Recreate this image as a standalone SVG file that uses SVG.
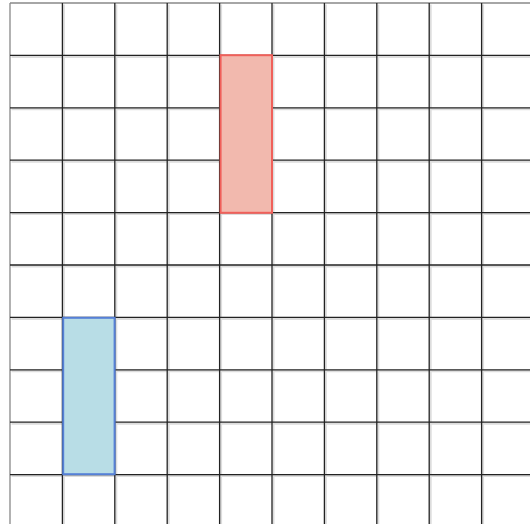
<svg xmlns="http://www.w3.org/2000/svg" width="530" height="524" viewBox="0 0 530 524">
<defs>
<style>
.g line{stroke:#222;stroke-width:1.3}
.sh line{stroke:#ddd;stroke-width:2}
.red{fill:#f2b9ae;stroke:#f0605a;stroke-width:2}
.blue{fill:#b8dde6;stroke:#5580d6;stroke-width:2}
</style>
</defs>
<rect width="530" height="524" fill="#fff"/>
<g id="grid-shadow" class="sh" transform="translate(1.5,1.5)">
<line x1="62.4" y1="3" x2="62.4" y2="524"/><line x1="114.8" y1="3" x2="114.8" y2="524"/><line x1="167.2" y1="3" x2="167.2" y2="524"/><line x1="219.6" y1="3" x2="219.6" y2="524"/><line x1="272" y1="3" x2="272" y2="524"/><line x1="324.4" y1="3" x2="324.4" y2="524"/><line x1="376.8" y1="3" x2="376.8" y2="524"/><line x1="429.2" y1="3" x2="429.2" y2="524"/><line x1="481.6" y1="3" x2="481.6" y2="524"/>
<line x1="10" y1="55.4" x2="530" y2="55.4"/><line x1="10" y1="107.8" x2="530" y2="107.8"/><line x1="10" y1="160.2" x2="530" y2="160.2"/><line x1="10" y1="212.6" x2="530" y2="212.6"/><line x1="10" y1="265" x2="530" y2="265"/><line x1="10" y1="317.4" x2="530" y2="317.4"/><line x1="10" y1="369.8" x2="530" y2="369.8"/><line x1="10" y1="422.2" x2="530" y2="422.2"/><line x1="10" y1="474.6" x2="530" y2="474.6"/>
</g>
<g id="grid" class="g">
<line x1="10" y1="3" x2="10" y2="524" style="stroke:#888"/>
<line x1="10" y1="3" x2="530" y2="3" style="stroke:#888"/>
<line x1="62.4" y1="3" x2="62.4" y2="524"/><line x1="114.8" y1="3" x2="114.8" y2="524"/><line x1="167.2" y1="3" x2="167.2" y2="524"/><line x1="219.6" y1="3" x2="219.6" y2="524"/><line x1="272" y1="3" x2="272" y2="524"/><line x1="324.4" y1="3" x2="324.4" y2="524"/><line x1="376.8" y1="3" x2="376.8" y2="524"/><line x1="429.2" y1="3" x2="429.2" y2="524"/><line x1="481.6" y1="3" x2="481.6" y2="524"/>
<line x1="10" y1="55.4" x2="530" y2="55.4"/><line x1="10" y1="107.8" x2="530" y2="107.8"/><line x1="10" y1="160.2" x2="530" y2="160.2"/><line x1="10" y1="212.6" x2="530" y2="212.6"/><line x1="10" y1="265" x2="530" y2="265"/><line x1="10" y1="317.4" x2="530" y2="317.4"/><line x1="10" y1="369.8" x2="530" y2="369.8"/><line x1="10" y1="422.2" x2="530" y2="422.2"/><line x1="10" y1="474.6" x2="530" y2="474.6"/>
</g>
<g id="red-block"><rect class="red" x="220.6" y="55.2" width="51.4" height="157.6"/></g>
<g id="blue-block"><rect class="blue" x="63.2" y="317.8" width="51.4" height="156.4"/></g>
</svg>
